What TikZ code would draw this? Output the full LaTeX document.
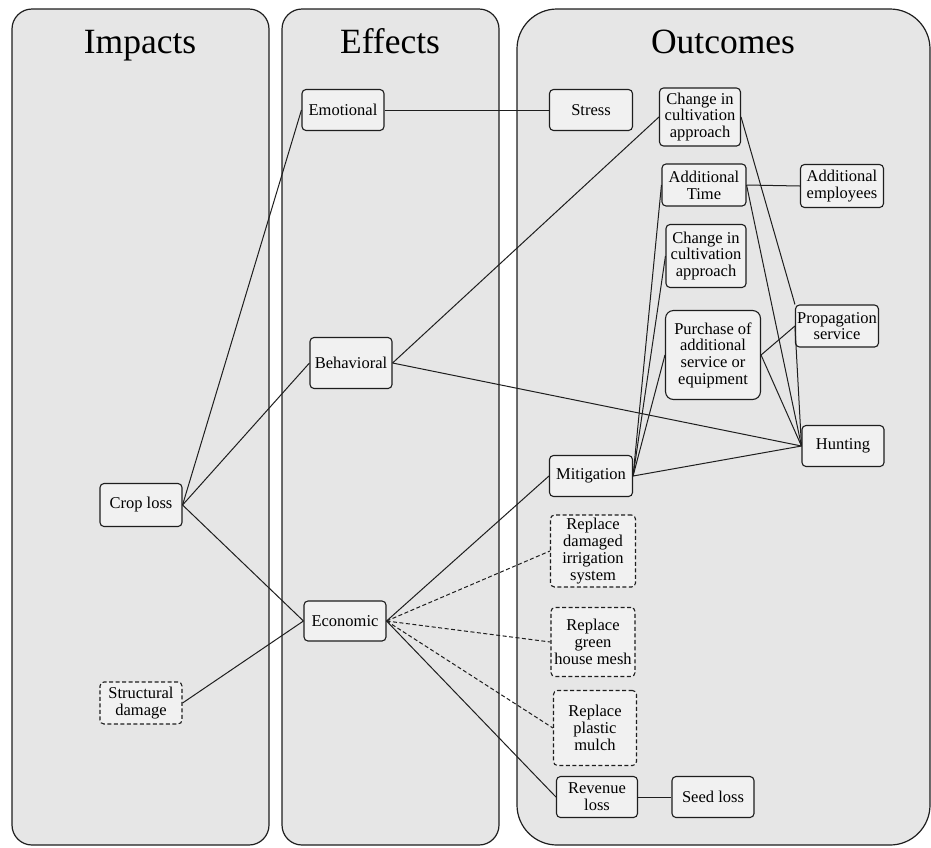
\documentclass[tikz,border=0pt]{standalone}
\usepackage{fontspec}
\setmainfont{Liberation Serif}
\usepackage{tikz}
\usetikzlibrary{shapes}
\usetikzlibrary{arrows}
\definecolor{panelgray}{HTML}{E6E6E6}
\definecolor{boxgray}{HTML}{F1F1F1}
\definecolor{inkgray}{HTML}{1E1E1E}
\begin{document}
\begin{tikzpicture}[x=1pt,y=-1pt,
	panel/.style={draw=inkgray,line width=1.2pt,fill=panelgray},
	title/.style={anchor=base,font=\fontsize{35.5}{38}\selectfont},
	box/.style={draw=inkgray,line width=1.1pt,fill=boxgray,rounded corners=4pt,align=center,inner sep=1.5pt,minimum width=82pt,minimum height=41pt,font=\fontsize{16.5}{16.7}\selectfont},
	dbox/.style={box,dash pattern=on 4pt off 2.5pt},
	link/.style={draw=inkgray,line width=1pt},
	dlink/.style={link,dash pattern=on 4pt off 2.5pt}]
				\useasboundingbox (0,0) rectangle (931,847);
				\draw[panel,rounded corners=20pt] (12,9) rectangle (269,845);
				\draw[panel,rounded corners=20pt] (282,9) rectangle (499,845);
				\draw[panel,rounded corners=40pt] (517,9) rectangle (930,845);
				\node[title] (impacts) at (140,53) {Impacts};
				\node[title] (effects) at (390,53) {Effects};
				\node[title] (outcomes) at (723,53) {Outcomes};
				\node[box,minimum height=43pt] (croploss) at (141,505) {Crop loss};
				\node[dbox,minimum height=42pt] (structural) at (141,703) {Structural\\damage};
				\node[box] (emotional) at (343,110) {Emotional};
				\node[box,minimum height=51pt] (behavioral) at (351,363) {Behavioral};
				\node[box,minimum height=40pt] (economic) at (345,621) {Economic};
				\node[box,minimum width=83pt] (stress) at (591,110) {Stress};
				\node[box,minimum width=81pt,minimum height=58pt] (cultivA) at (700,117) {Change in\\cultivation\\approach};
				\node[box,minimum width=84pt,minimum height=42pt] (addtime) at (704,185) {Additional\\Time};
				\node[box,minimum width=83pt,minimum height=43pt] (addemp) at (842,186) {Additional\\employees};
				\node[box,minimum width=80pt,minimum height=63pt] (cultivB) at (706,256) {Change in\\cultivation\\approach};
				\node[box,minimum width=95pt,minimum height=89pt,rounded corners=8pt] (purchase) at (713,355) {Purchase of\\additional\\service or\\equipment};
				\node[box,minimum width=83pt,minimum height=42pt] (propagation) at (837,326) {Propagation\\service};
				\node[box] (hunting) at (843,446) {Hunting};
				\node[box,minimum width=83pt] (mitigation) at (591,476) {Mitigation};
				\node[dbox,minimum width=85pt,minimum height=72pt] (irrigation) at (593,551) {Replace\\damaged\\irrigation\\system};
				\node[dbox,minimum width=84pt,minimum height=69pt] (mesh) at (593,642) {Replace\\green\\house mesh};
				\node[dbox,minimum width=83pt,minimum height=75pt] (mulch) at (595,728) {Replace\\plastic\\mulch};
				\node[box,minimum width=81pt] (revenue) at (597,797) {Revenue\\loss};
				\node[box] (seedloss) at (713,797) {Seed loss};
				\draw[link] (croploss.east) -- (emotional.west);
				\draw[link] (croploss.east) -- (behavioral.west);
				\draw[link] (croploss.east) -- (economic.west);
				\draw[link] (structural.east) -- (economic.west);
				\draw[link] (emotional.east) -- (stress.west);
				\draw[link] (behavioral.east) -- (cultivA.west);
				\draw[link] (behavioral.east) -- (hunting.west);
				\draw[link] (economic.east) -- (mitigation.west);
				\draw[dlink] (economic.east) -- (irrigation.west);
				\draw[dlink] (economic.east) -- (mesh.west);
				\draw[dlink] (economic.east) -- (mulch.west);
				\draw[link] (economic.east) -- (revenue.west);
				\draw[link] (revenue.east) -- (seedloss.west);
				\draw[link] (mitigation.east) -- (addtime.west);
				\draw[link] (mitigation.east) -- (cultivB.west);
				\draw[link] (mitigation.east) -- (purchase.west);
				\draw[link] (mitigation.east) -- (hunting.west);
				\draw[link] (addtime.east) -- (addemp.west);
				\draw[link] (addtime.east) -- (hunting.west);
				\draw[link] (cultivA.east) -- (propagation.north west);
				\draw[link] (propagation.west) -- (hunting.west);
				\draw[link] (purchase.east) -- (propagation.west);
				\draw[link] (purchase.east) -- (hunting.west);
			\end{tikzpicture}
\end{document}
